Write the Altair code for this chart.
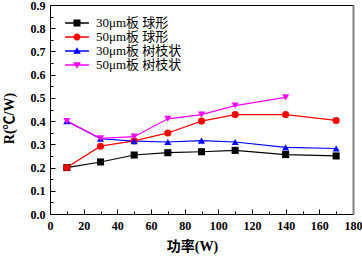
import altair as alt
import pandas as pd

series_names = ["30μm板 球形", "50μm板 球形", "30μm板 树枝状", "50μm板 树枝状"]
series_colors = ["#000000", "#FF0000", "#0000FF", "#FF00FF"]
x_power = [10, 30, 50, 70, 90, 110, 140, 170]
r_30_ball = [0.200, 0.224, 0.254, 0.264, 0.268, 0.274, 0.256, 0.250]
r_50_ball = [0.200, 0.292, 0.315, 0.349, 0.400, 0.428, 0.428, 0.403]
r_30_tree = [0.400, 0.324, 0.314, 0.310, 0.316, 0.310, 0.287, 0.282]
r_50_tree = [0.400, 0.326, 0.333, 0.410, 0.428, 0.467, 0.502]

x_labels = [0, 20, 40, 60, 80, 100, 120, 140, 160, 180]
x_ticks = [0, 10, 20, 30, 40, 50, 60, 70, 80, 90, 100, 110, 120, 130, 140, 150, 160, 170, 180]
y_labels = [0.0, 0.1, 0.2, 0.3, 0.4, 0.5, 0.6, 0.7, 0.8, 0.9]
y_ticks = [0.0, 0.05, 0.1, 0.15, 0.2, 0.25, 0.3, 0.35, 0.4, 0.45, 0.5, 0.55, 0.6, 0.65, 0.7, 0.75, 0.8, 0.85, 0.9]

rows = []
for name, vals in zip(series_names, [r_30_ball, r_50_ball, r_30_tree, r_50_tree]):
    for i, v in enumerate(vals):
        rows.append({"series": name, "x": x_power[i], "r": v, "k": series_names.index(name)})
df = pd.DataFrame(rows)

SERIF = "Liberation Serif, Noto Sans CJK SC"

xs = alt.Scale(domain=[0, 180], nice=False)
ys = alt.Scale(domain=[0, 0.9], nice=False)
cs = alt.Scale(domain=series_names, range=series_colors)

base = alt.Chart(df)

lines = base.mark_line(strokeWidth=1.2).encode(
    x=alt.X("x:Q", scale=xs, axis=alt.Axis(
        orient="bottom", values=x_labels, ticks=False, tickSize=0, domain=True,
        domainColor="black", domainWidth=1, grid=False, labelFlush=False,
        labelFont="Liberation Serif", labelFontWeight="bold", labelFontSize=12,
        labelColor="black", labelPadding=6,
        title="功率(W)", titleFont=SERIF, titleFontWeight="bold", titleFontSize=14,
        titleColor="black", titleX=142, titleY=32, titleBaseline="middle")),
    y=alt.Y("r:Q", scale=ys, axis=alt.Axis(
        orient="left", values=y_labels, format=".1f", ticks=False, tickSize=0,
        domain=True, domainColor="black", domainWidth=1, grid=False, labelFlush=False,
        labelFont="Liberation Serif", labelFontWeight="bold", labelFontSize=12,
        labelColor="black", labelPadding=5,
        title="R(℃/W)", titleFont=SERIF, titleFontWeight="bold", titleFontSize=14,
        titleColor="black", titleX=-41, titleY=113, titleBaseline="middle")),
    color=alt.Color("series:N", scale=cs, legend=None),
    detail="series:N",
    order="x:Q",
)

points = base.mark_point(filled=True, size=50, opacity=1, strokeWidth=0).encode(
    x=alt.X("x:Q", scale=xs, axis=alt.Axis(
        orient="top", offset=-209, values=x_ticks, labels=False, domain=False,
        grid=False, tickColor="black", tickWidth=1, title=None,
        tickSize={"condition": {"test": "datum.value % 20 === 0", "value": 5}, "value": 3})),
    y=alt.Y("r:Q", scale=ys, axis=alt.Axis(
        orient="right", offset=-303, values=y_ticks, labels=False, domain=False,
        grid=False, tickColor="black", tickWidth=1, title=None,
        tickSize={"condition": {"test": "round(datum.value * 100) % 10 === 0", "value": 5}, "value": 3})),
    color=alt.Color("series:N", scale=cs, legend=None),
    shape=alt.Shape("series:N", scale=alt.Scale(
        domain=series_names, range=["square", "circle", "triangle-up", "triangle-down"]), legend=None),
    order="k:Q",
)

line_seg = "M-1.7,-0.09H1.7V0.09H-1.7Z"
legend_paths = [
    line_seg + "M-0.5,-0.5H0.5V0.5H-0.5Z",
    line_seg + "M-0.5,0A0.5,0.5,0,1,1,0.5,0A0.5,0.5,0,1,1,-0.5,0Z",
    line_seg + "M0,-0.55L0.55,0.4L-0.55,0.4Z",
    line_seg + "M-0.55,-0.4L0.55,-0.4L0,0.55Z",
]

leg = dict(title=None, orient="none", legendX=20, legendY=11, padding=0, rowPadding=0,
           symbolSize=196, symbolStrokeWidth=0, labelOffset=12,
           labelFont=SERIF, labelFontSize=13, labelColor="black")

legend_layer = base.transform_filter("false").mark_point(filled=True, size=196, opacity=1, strokeWidth=0).encode(
    x=alt.X("x:Q", scale=xs, axis=alt.Axis(
        orient="top", ticks=False, labels=False, domain=True, domainColor="black",
        domainWidth=1, grid=False, title=None)),
    y=alt.Y("r:Q", scale=ys, axis=alt.Axis(
        orient="right", ticks=False, labels=False, domain=True, domainColor="#808080",
        domainWidth=2, grid=False, title=None)),
    color=alt.Color("series:N", scale=cs, legend=alt.Legend(**leg)),
    shape=alt.Shape("series:N", scale=alt.Scale(domain=series_names, range=legend_paths),
                    legend=alt.Legend(**leg)),
)

chart = alt.layer(lines, points, legend_layer).resolve_scale(
    shape="independent", color="independent"
).resolve_axis(
    x="independent", y="independent"
).properties(
    width=303, height=209,
    padding={"left": 50, "top": 5, "right": 9, "bottom": 42},
    autosize="none",
).configure_view(stroke=None).configure(background="white")

chart.save("out.html", embed_options={"renderer": "svg", "actions": False})
